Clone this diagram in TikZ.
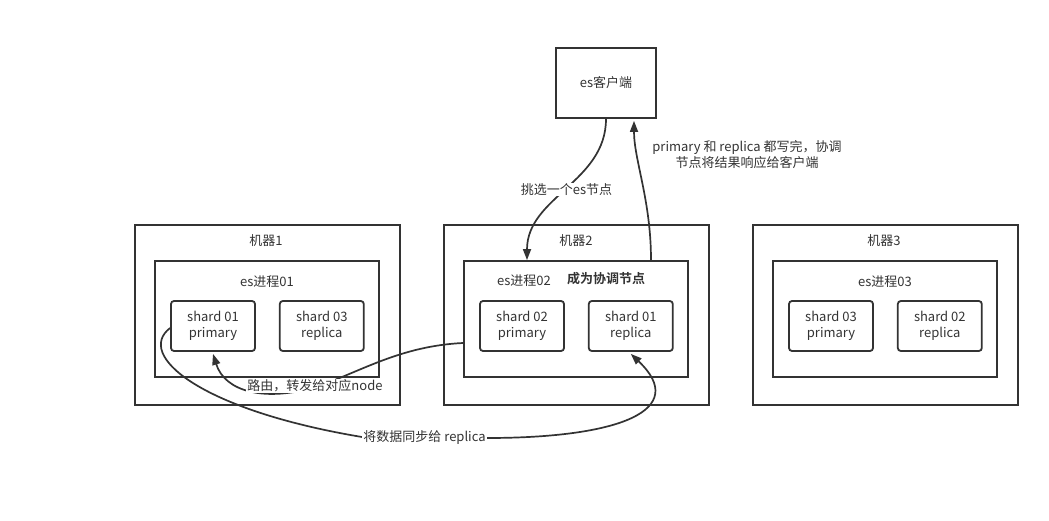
\documentclass[tikz,border=0pt]{standalone}
\usepackage{fontspec}
\setmainfont{Noto Sans CJK SC}[BoldFont={Noto Sans CJK SC Bold}]
\usetikzlibrary{positioning, arrows.meta, calc}
\definecolor{ink}{HTML}{333333}

\begin{document}
\begin{tikzpicture}[x=1pt, y=-1pt, font=\fontsize{13}{16}\selectfont, text=ink,
    machine/.style={draw=ink, line width=1.8pt, minimum width=265pt, minimum height=180pt},
    proc/.style={draw=ink, line width=1.8pt, minimum width=224pt, minimum height=116pt},
    shard/.style={draw=ink, line width=1.8pt, rounded corners=3pt, minimum width=84pt, minimum height=50pt, align=center, inner sep=0pt},
    arr/.style={draw=ink, line width=1.7pt, -{Triangle[length=11pt, width=8pt]}},
    lbl/.style={fill=white, inner sep=1pt, align=center}]
    \useasboundingbox (0,0) rectangle (1049,521);

    \node (client) [draw=ink, line width=1.8pt, minimum width=100pt, minimum height=70pt] at (606,83) {es客户端};

    % machine 1
    \node (m1) [machine] at (267.5,315) {};
    \node (p1) [proc] at (267,319) {};
    \node at (266,241) {机器1};
    \node at (267,282) {es进程01};
    \node (s1p) [shard] at (213,326) {shard 01\\primary};
    \node (s3r) [shard, right=23pt of s1p] {shard 03\\replica};

    % machine 2
    \node (m2) [machine] at (576.5,315) {};
    \node (p2) [proc] at (576,319) {};
    \node at (576,241) {机器2};
    \node at (524,281) {es进程02};
    \node at (606,279) {\bfseries 成为协调节点};
    \node (s2p) [shard] at (522,326) {shard 02\\primary};
    \node (s1r) [shard, right=23pt of s2p] {shard 01\\replica};

    % machine 3
    \node (m3) [machine] at (885.5,315) {};
    \node (p3) [proc] at (885,319) {};
    \node at (884,241) {机器3};
    \node at (885,282) {es进程03};
    \node (s3p) [shard] at (831,326) {shard 03\\primary};
    \node (s2r) [shard, right=23pt of s3p] {shard 02\\replica};

    % client -> coordinating node
    \draw [arr] (client.south) to [out=-90, in=90] node [lbl] {挑选一个es节点} ($(p2.north)+(-49,0)$);
    \draw [arr] ($(p2.north)+(75,0)$) .. controls (651,200) and (634,160) .. ($(client.south)+(28,2)$);
    \node [align=center] at (747,155) {primary 和 replica 都写完，协调\\节点将结果响应给客户端};

    % route to primary
    \draw [arr] ($(p2.west)+(0,24)$) .. controls (400,346) and (360,372) .. (316,387)
        .. controls (265,402) and (225,392) .. ($(s1p.south)+(0,2)$);
    \node [lbl] at (315,386) {路由，转发给对应node};

    % sync to replica
    \draw [arr] ($(s1p.west)+(0,2)$) .. controls (135,355) and (200,410) .. (362,437)
        -- node [lbl] {将数据同步给 replica} (487,438)
        .. controls (620,438) and (690,410) .. ($(s1r.south)+(0,2)$);
\end{tikzpicture}
\end{document}
